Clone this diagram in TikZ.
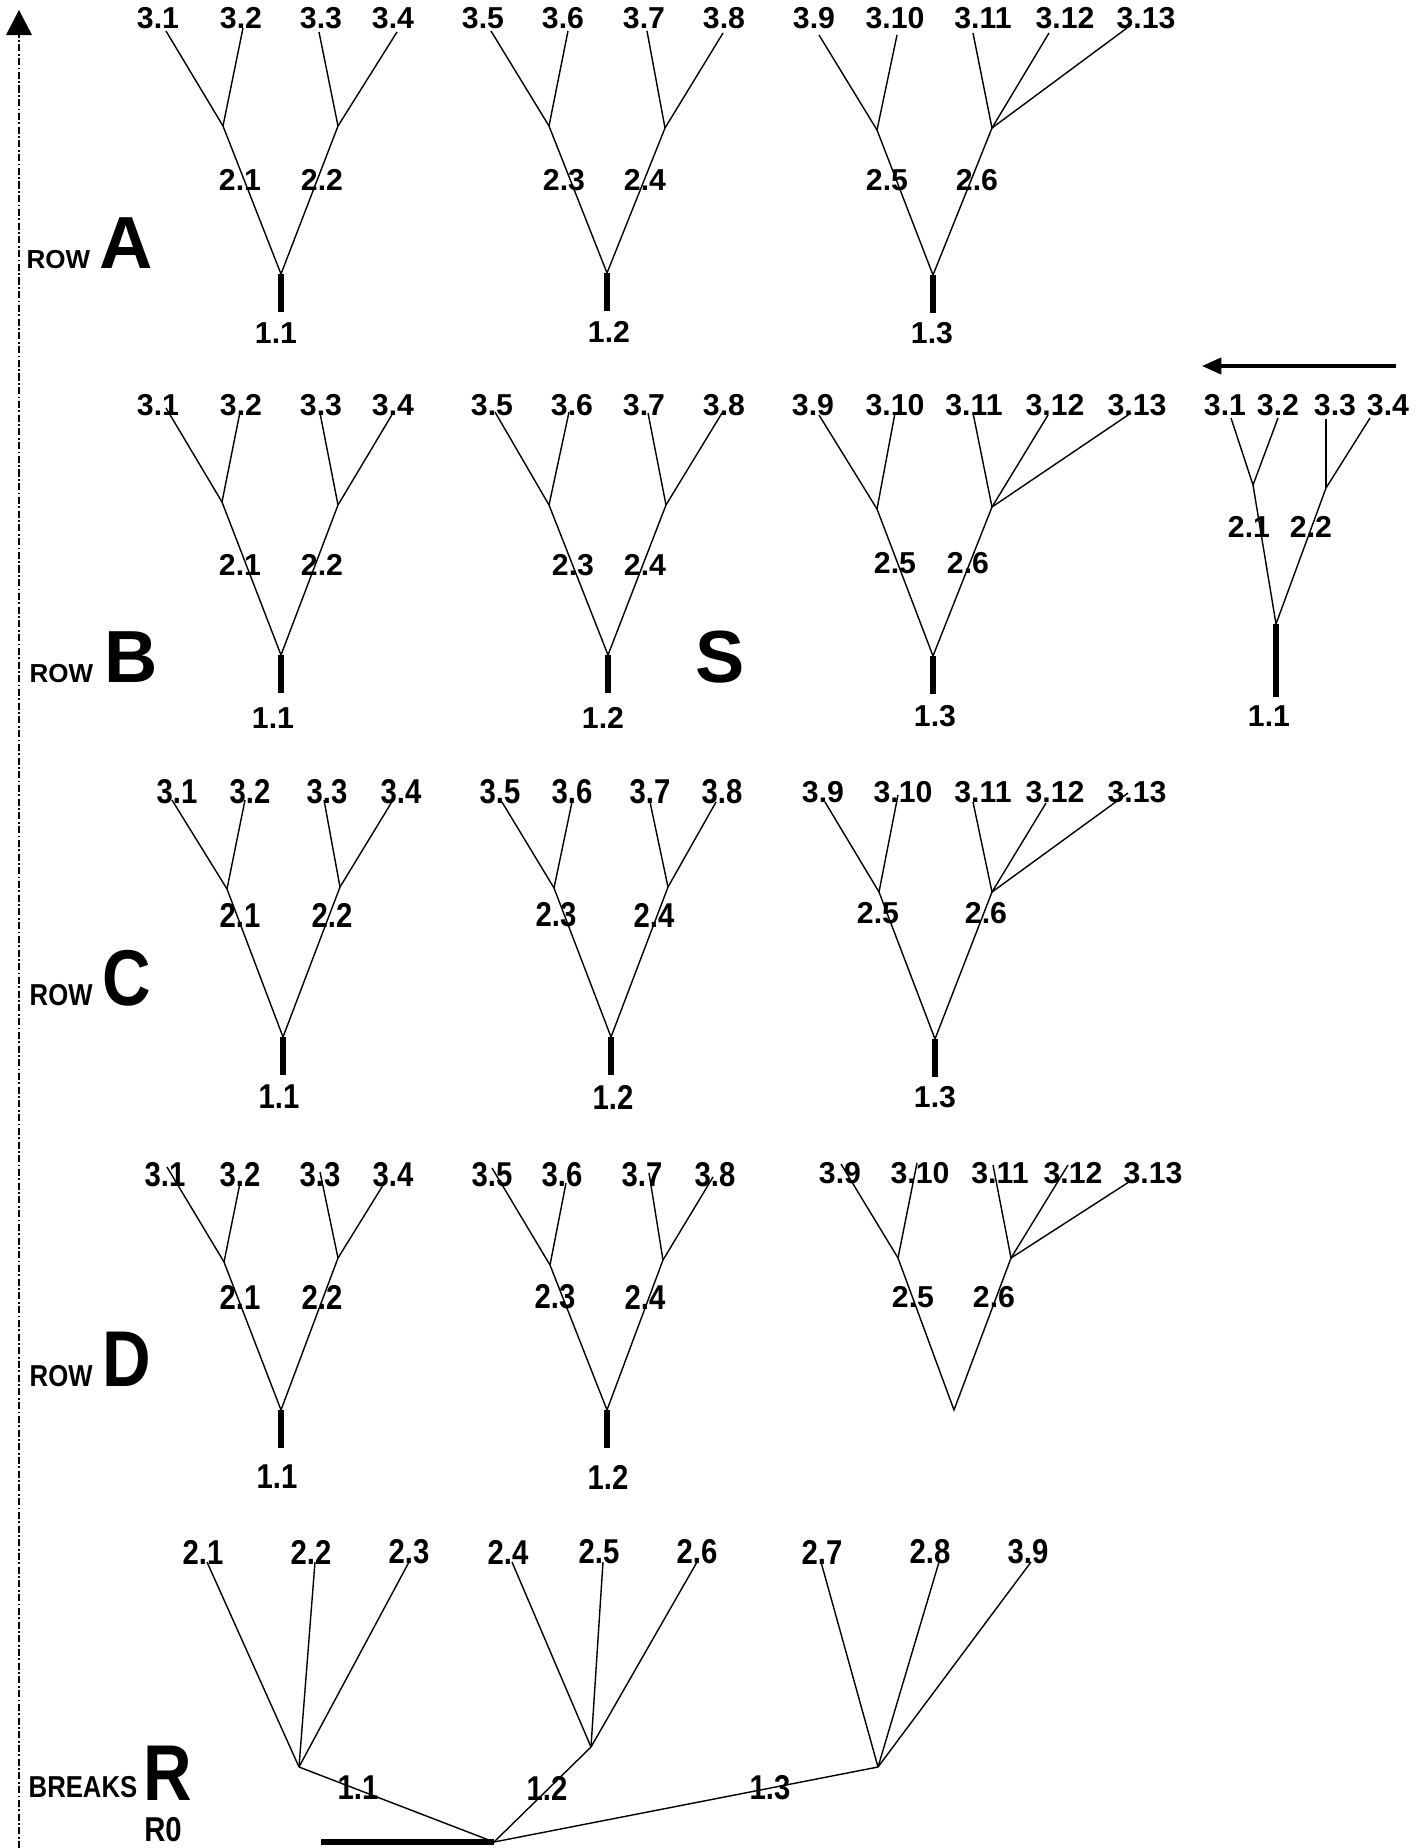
\documentclass[tikz,border=0pt]{standalone}
\usepackage{fontspec}
\setmainfont{Liberation Sans}
\newfontfamily\narrowfont{Liberation Sans}[FakeStretch=0.85]
\usetikzlibrary{arrows.meta}
\tikzset{
  twig/.style={line width=0.4pt},
  stem/.style={line width=1.5pt},
  numlbl/.style={inner sep=0pt, font=\bfseries\fontsize{8.6}{9}\selectfont},
  narrowlbl/.style={inner sep=0pt, font=\narrowfont\bfseries\fontsize{9.8}{10}\selectfont},
  rowtag/.style={inner sep=0pt, anchor=base west, font=\bfseries\fontsize{7.4}{8}\selectfont},
  narrowtag/.style={inner sep=0pt, anchor=base west, font=\narrowfont\bfseries\fontsize{8.6}{9}\selectfont},
  bigtag/.style={inner sep=0pt, anchor=base west, font=\bfseries\fontsize{21}{24}\selectfont},
  narrowbig/.style={inner sep=0pt, anchor=base west, font=\narrowfont\bfseries\fontsize{22.5}{24}\selectfont},
}
\begin{document}
\begin{tikzpicture}[x=0.01cm, y=-0.01cm]
  \useasboundingbox (0,0) rectangle (1428,1848);
  % time axis
  \coordinate (axtop) at (19,35);
  \coordinate (axbot) at (19,1848);
  \draw[line width=0.4pt, dash pattern=on 2pt off 0.7pt on 0.5pt off 0.7pt] (axbot) -- (axtop);
  \fill (6,35) -- (19,10) -- (32,35) -- cycle;

  % row A
  \node[rowtag] (rowA) at (26,268) {ROW};
  \node[bigtag] (tagA) at (99,268) {A};
  \coordinate (A1r) at (281,274); \coordinate (A1f) at (281,312);
  \coordinate (A1a) at (223,126); \coordinate (A1b) at (338,126);
  \draw[stem] (A1r) -- (A1f);
  \draw[twig] (A1a) -- (A1r) -- (A1b);
  \node[numlbl] (A1s) at (276,333) {1.1};
  \node[numlbl] (A1sa) at (240,180) {2.1};
  \node[numlbl] (A1sb) at (322,180) {2.2};
  \foreach \txt/\lx/\tx/\ty/\jn [count=\i] in {3.1/158/166/31/a, 3.2/241/243/28/a, 3.3/321/319/32/b, 3.4/393/397/32/b}{
    \node[numlbl] (A1l\i) at (\lx,18) {\txt};
    \coordinate (A1t\i) at (\tx,\ty);
    \draw[twig] (A1\jn) -- (A1t\i);
  }
  \coordinate (A2r) at (607,273); \coordinate (A2f) at (607,311);
  \coordinate (A2a) at (549,126); \coordinate (A2b) at (665,128);
  \draw[stem] (A2r) -- (A2f);
  \draw[twig] (A2a) -- (A2r) -- (A2b);
  \node[numlbl] (A2s) at (609,332) {1.2};
  \node[numlbl] (A2sa) at (564,180) {2.3};
  \node[numlbl] (A2sb) at (645,180) {2.4};
  \foreach \txt/\lx/\tx/\ty/\jn [count=\i] in {3.5/483/491/31/a, 3.6/563/568/31/a, 3.7/644/647/31/b, 3.8/724/723/33/b}{
    \node[numlbl] (A2l\i) at (\lx,18) {\txt};
    \coordinate (A2t\i) at (\tx,\ty);
    \draw[twig] (A2\jn) -- (A2t\i);
  }
  \coordinate (A3r) at (933,275); \coordinate (A3f) at (933,313);
  \coordinate (A3a) at (877,130); \coordinate (A3b) at (992,128);
  \draw[stem] (A3r) -- (A3f);
  \draw[twig] (A3a) -- (A3r) -- (A3b);
  \node[numlbl] (A3s) at (932,333) {1.3};
  \node[numlbl] (A3sa) at (887,180) {2.5};
  \node[numlbl] (A3sb) at (977,180) {2.6};
  \foreach \txt/\lx/\tx/\ty/\jn [count=\i] in {3.9/814/819/35/a, 3.10/895/897/35/a, 3.11/983/973/33/b, 3.12/1065/1049/33/b, 3.13/1146/1127/28/b}{
    \node[numlbl] (A3l\i) at (\lx,18) {\txt};
    \coordinate (A3t\i) at (\tx,\ty);
    \draw[twig] (A3\jn) -- (A3t\i);
  }

  % row B
  \node[rowtag] (rowB) at (29,682) {ROW};
  \node[bigtag] (tagB) at (104,682) {B};
  \node[bigtag] (tagS) at (695,682) {S};
  \coordinate (B1r) at (281,655); \coordinate (B1f) at (281,693);
  \coordinate (B1a) at (222,502); \coordinate (B1b) at (338,505);
  \draw[stem] (B1r) -- (B1f);
  \draw[twig] (B1a) -- (B1r) -- (B1b);
  \node[numlbl] (B1s) at (273,718) {1.1};
  \node[numlbl] (B1sa) at (240,565) {2.1};
  \node[numlbl] (B1sb) at (322,565) {2.2};
  \foreach \txt/\lx/\tx/\ty/\jn [count=\i] in {3.1/158/166/408/a, 3.2/241/240/412/a, 3.3/321/320/413/b, 3.4/393/393/413/b}{
    \node[numlbl] (B1l\i) at (\lx,405) {\txt};
    \coordinate (B1t\i) at (\tx,\ty);
    \draw[twig] (B1\jn) -- (B1t\i);
  }
  \coordinate (B2r) at (608,655); \coordinate (B2f) at (608,693);
  \coordinate (B2a) at (549,505); \coordinate (B2b) at (666,505);
  \draw[stem] (B2r) -- (B2f);
  \draw[twig] (B2a) -- (B2r) -- (B2b);
  \node[numlbl] (B2s) at (603,718) {1.2};
  \node[numlbl] (B2sa) at (573,565) {2.3};
  \node[numlbl] (B2sb) at (645,565) {2.4};
  \foreach \txt/\lx/\tx/\ty/\jn [count=\i] in {3.5/492/495/412/a, 3.6/572/569/412/a, 3.7/644/648/413/b, 3.8/724/722/413/b}{
    \node[numlbl] (B2l\i) at (\lx,405) {\txt};
    \coordinate (B2t\i) at (\tx,\ty);
    \draw[twig] (B2\jn) -- (B2t\i);
  }
  \coordinate (B3r) at (933,656); \coordinate (B3f) at (933,694);
  \coordinate (B3a) at (877,509); \coordinate (B3b) at (992,507);
  \draw[stem] (B3r) -- (B3f);
  \draw[twig] (B3a) -- (B3r) -- (B3b);
  \node[numlbl] (B3s) at (935,716) {1.3};
  \node[numlbl] (B3sa) at (895,563) {2.5};
  \node[numlbl] (B3sb) at (968,563) {2.6};
  \foreach \txt/\lx/\tx/\ty/\jn [count=\i] in {3.9/813/819/415/a, 3.10/895/895/413/a, 3.11/974/973/413/b, 3.12/1055/1048/415/b, 3.13/1137/1131/413/b}{
    \node[numlbl] (B3l\i) at (\lx,405) {\txt};
    \coordinate (B3t\i) at (\tx,\ty);
    \draw[twig] (B3\jn) -- (B3t\i);
  }
  \coordinate (B4r) at (1276,624); \coordinate (B4f) at (1276,697);
  \coordinate (B4a) at (1253,485); \coordinate (B4b) at (1326,488);
  \draw[stem] (B4r) -- (B4f);
  \draw[twig] (B4a) -- (B4r) -- (B4b);
  \node[numlbl] (B4s) at (1269,716) {1.1};
  \node[numlbl] (B4sa) at (1249,527) {2.1};
  \node[numlbl] (B4sb) at (1311,527) {2.2};
  \foreach \txt/\lx/\tx/\ty/\jn [count=\i] in {3.1/1225/1231/418/a, 3.2/1278/1278/418/a, 3.3/1335/1326/419/b, 3.4/1388/1370/418/b}{
    \node[numlbl] (B4l\i) at (\lx,405) {\txt};
    \coordinate (B4t\i) at (\tx,\ty);
    \draw[twig] (B4\jn) -- (B4t\i);
  }
  \coordinate (arrS) at (1396,366); \coordinate (arrE) at (1202,366);
  \draw[line width=1pt, -{Triangle[length=5.5pt,width=4.6pt]}] (arrS) -- (arrE);

  % row C
  \node[narrowtag] (rowC) at (29,1005) {ROW};
  \node[narrowbig] (tagC) at (102,1005) {C};
  \coordinate (C1r) at (283,1037); \coordinate (C1f) at (283,1075);
  \coordinate (C1a) at (227,889); \coordinate (C1b) at (340,887);
  \draw[stem] (C1r) -- (C1f);
  \draw[twig] (C1a) -- (C1r) -- (C1b);
  \node[narrowlbl] (C1s) at (279,1097) {1.1};
  \node[narrowlbl] (C1sa) at (240,915) {2.1};
  \node[narrowlbl] (C1sb) at (332,915) {2.2};
  \foreach \txt/\lx/\tx/\ty/\jn [count=\i] in {3.1/177/172/800/a, 3.2/250/245/800/a, 3.3/327/324/800/b, 3.4/401/393/800/b}{
    \node[narrowlbl] (C1l\i) at (\lx,792) {\txt};
    \coordinate (C1t\i) at (\tx,\ty);
    \draw[twig] (C1\jn) -- (C1t\i);
  }
  \coordinate (C2r) at (611,1037); \coordinate (C2f) at (611,1075);
  \coordinate (C2a) at (554,888); \coordinate (C2b) at (668,887);
  \draw[stem] (C2r) -- (C2f);
  \draw[twig] (C2a) -- (C2r) -- (C2b);
  \node[narrowlbl] (C2s) at (613,1097) {1.2};
  \node[narrowlbl] (C2sa) at (556,915) {2.3};
  \node[narrowlbl] (C2sb) at (654,915) {2.4};
  \foreach \txt/\lx/\tx/\ty/\jn [count=\i] in {3.5/500/502/802/a, 3.6/572/572/802/a, 3.7/650/650/802/b, 3.8/722/716/802/b}{
    \node[narrowlbl] (C2l\i) at (\lx,792) {\txt};
    \coordinate (C2t\i) at (\tx,\ty);
    \draw[twig] (C2\jn) -- (C2t\i);
  }
  \coordinate (C3r) at (935,1039); \coordinate (C3f) at (935,1077);
  \coordinate (C3a) at (879,892); \coordinate (C3b) at (992,892);
  \draw[stem] (C3r) -- (C3f);
  \draw[twig] (C3a) -- (C3r) -- (C3b);
  \node[numlbl] (C3s) at (935,1097) {1.3};
  \node[numlbl] (C3sa) at (878,913) {2.5};
  \node[numlbl] (C3sb) at (986,913) {2.6};
  \foreach \txt/\lx/\tx/\ty/\jn [count=\i] in {3.9/823/825/802/a, 3.10/903/898/795/a, 3.11/983/973/802/b, 3.12/1055/1046/803/b, 3.13/1137/1128/793/b}{
    \node[numlbl] (C3l\i) at (\lx,792) {\txt};
    \coordinate (C3t\i) at (\tx,\ty);
    \draw[twig] (C3\jn) -- (C3t\i);
  }

  % row D
  \node[narrowtag] (rowD) at (29,1386) {ROW};
  \node[narrowbig] (tagD) at (102,1386) {D};
  \coordinate (D1r) at (281,1410); \coordinate (D1f) at (281,1448);
  \coordinate (D1a) at (224,1262); \coordinate (D1b) at (338,1258);
  \draw[stem] (D1r) -- (D1f);
  \draw[twig] (D1a) -- (D1r) -- (D1b);
  \node[narrowlbl] (D1s) at (277,1477) {1.1};
  \node[narrowlbl] (D1sa) at (240,1297) {2.1};
  \node[narrowlbl] (D1sb) at (322,1297) {2.2};
  \foreach \txt/\lx/\tx/\ty/\jn [count=\i] in {3.1/165/167/1167/a, 3.2/240/240/1183/a, 3.3/320/320/1172/b, 3.4/393/385/1182/b}{
    \node[narrowlbl] (D1l\i) at (\lx,1175) {\txt};
    \coordinate (D1t\i) at (\tx,\ty);
    \draw[twig] (D1\jn) -- (D1t\i);
  }
  \coordinate (D2r) at (607,1410); \coordinate (D2f) at (607,1448);
  \coordinate (D2a) at (550,1265); \coordinate (D2b) at (663,1260);
  \draw[stem] (D2r) -- (D2f);
  \draw[twig] (D2a) -- (D2r) -- (D2b);
  \node[narrowlbl] (D2s) at (608,1477) {1.2};
  \node[narrowlbl] (D2sa) at (555,1297) {2.3};
  \node[narrowlbl] (D2sb) at (645,1297) {2.4};
  \foreach \txt/\lx/\tx/\ty/\jn [count=\i] in {3.5/492/492/1168/a, 3.6/562/566/1183/a, 3.7/642/649/1173/b, 3.8/715/713/1177/b}{
    \node[narrowlbl] (D2l\i) at (\lx,1175) {\txt};
    \coordinate (D2t\i) at (\tx,\ty);
    \draw[twig] (D2\jn) -- (D2t\i);
  }
  \coordinate (D3r) at (954,1410);
  \coordinate (D3a) at (898,1258); \coordinate (D3b) at (1011,1258);
  \draw[twig] (D3a) -- (D3r) -- (D3b);
  \node[numlbl] (D3sa) at (913,1297) {2.5};
  \node[numlbl] (D3sb) at (994,1297) {2.6};
  \foreach \txt/\lx/\tx/\ty/\jn [count=\i] in {3.9/840/841/1164/a, 3.10/920/917/1163/a, 3.11/1000/993/1165/b, 3.12/1073/1068/1165/b, 3.13/1153/1132/1180/b}{
    \node[numlbl] (D3l\i) at (\lx,1173) {\txt};
    \coordinate (D3t\i) at (\tx,\ty);
    \draw[twig] (D3\jn) -- (D3t\i);
  }

  % row R
  \node[narrowtag] (rowR) at (28,1797) {BREAKS};
  \node[narrowbig] (tagR) at (143,1800) {R};
  \node[narrowlbl] (tagR0) at (163,1830) {R0};
  \coordinate (Rbase) at (494,1842); \coordinate (Rbar) at (321,1842);
  \coordinate (Rk1) at (299,1767); \coordinate (Rk2) at (591,1747); \coordinate (Rk3) at (878,1767);
  \draw[line width=1.7pt] (Rbar) -- (Rbase);
  \draw[twig] (Rk1) -- (Rbase) -- (Rk2);
  \draw[twig] (Rbase) -- (Rk3);
  \node[narrowlbl] (Rs1) at (358,1788) {1.1};
  \node[narrowlbl] (Rs2) at (547,1788) {1.2};
  \node[narrowlbl] (Rs3) at (770,1788) {1.3};
  \foreach \txt/\lx/\tx/\jn [count=\i] in {2.1/203/207/1, 2.2/311/315/1, 2.3/409/409/1, 2.4/508/512/2, 2.5/599/603/2, 2.6/697/697/2, 2.7/822/821/3, 2.8/930/939/3, 3.9/1028/1031/3}{
    \node[narrowlbl] (Rl\i) at (\lx,1552) {\txt};
    \coordinate (Rt\i) at (\tx,1562);
    \draw[twig] (Rk\jn) -- (Rt\i);
  }
\end{tikzpicture}
\end{document}
